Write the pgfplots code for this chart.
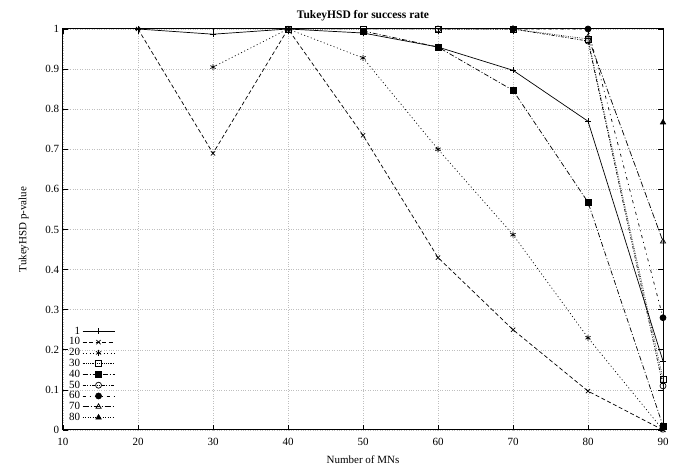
\documentclass[border=0pt]{standalone}
\usepackage{pgfplots}
\pgfplotsset{compat=1.18}
\usepackage{fontspec}
\setmainfont{Liberation Serif}
\begin{document}
\fontsize{11}{13}\selectfont
\begin{tikzpicture}
\path[use as bounding box] (-63pt,-38pt) rectangle (619pt,430pt);
\begin{axis}[
  at={(0,0)}, anchor=south west,
  scale only axis, width=600pt, height=401pt,
  xmin=10, xmax=90, ymin=0, ymax=1,
  xtick={10,20,...,90},
  ytick={0,0.1,...,1},
  yticklabels={0,0.1,0.2,0.3,0.4,0.5,0.6,0.7,0.8,0.9,1},
  tick align=inside,
  tick style={black, line width=0.6pt},
  major tick length=5pt,
  axis line style={line width=1pt},
  grid=major,
  grid style={dotted, gray!50, line width=0.5pt},
  /pgf/number format/assume math mode=true,
  ticklabel style={font=\fontsize{11}{13}\selectfont},
  xticklabel style={yshift=-4pt},
  title={\bfseries TukeyHSD for success rate},
  title style={font=\fontsize{11.5}{13}\selectfont, yshift=-2pt},
  xlabel={Number of MNs},
  ylabel={TukeyHSD p-value},
  xlabel style={yshift=-3pt},
  ylabel style={yshift=9pt},
  legend plot pos=right,
  legend cell align=right,
  legend style={draw=none, fill=none, at={(0.005,0.012)}, anchor=south west,
    font=\fontsize{11}{11}\selectfont, row sep=-2.2pt, inner sep=1pt},
  legend image code/.code={\draw[#1, mark repeat=2, mark phase=2] plot coordinates {(8pt,0pt) (24pt,0pt) (40pt,0pt)};},
  every axis plot/.append style={black, line width=0.7pt, mark size=3pt, mark options={solid, line width=0.7pt}},
]
% 1
\addplot[solid, mark=+] coordinates {(20,1) (30,0.987) (40,1) (50,0.99) (60,0.955) (70,0.897) (80,0.77) (90,0.172)};
% 10
\addplot[dash pattern=on 4pt off 2.5pt, mark=x] coordinates {(20,1) (30,0.69) (40,1) (50,0.735) (60,0.43) (70,0.25) (80,0.097) (90,0.0)};
% 20
\addplot[dash pattern=on 1pt off 2.5pt, mark=asterisk] coordinates {(30,0.905) (40,1) (50,0.928) (60,0.70) (70,0.487) (80,0.23) (90,0.0)};
% 30
\addplot[dash pattern=on 0.6pt off 1.2pt, mark=square] coordinates {(40,1) (50,1) (60,1) (70,1) (80,0.975) (90,0.127)};
% 40
\addplot[dash pattern=on 5pt off 2pt on 1pt off 2pt, mark=square*] coordinates {(50,0.995) (60,0.955) (70,0.847) (80,0.568) (90,0.01)};
% 50
\addplot[dash pattern=on 3pt off 1.5pt on 1pt off 1.5pt on 1pt off 1.5pt, mark=o] coordinates {(60,1) (70,1) (80,0.97) (90,0.11)};
% 60
\addplot[dash pattern=on 3pt off 4pt on 1pt off 4pt, mark=*] coordinates {(70,1) (80,1) (90,0.28)};
% 70
\addplot[dash pattern=on 6pt off 2pt on 1pt off 2pt, mark=triangle] coordinates {(80,0.98) (90,0.47)};
% 80
\addplot[dash pattern=on 1pt off 1.5pt, mark=triangle*] coordinates {(90,0.767)};
\legend{1,10,20,30,40,50,60,70,80}
\end{axis}
\end{tikzpicture}
\end{document}
